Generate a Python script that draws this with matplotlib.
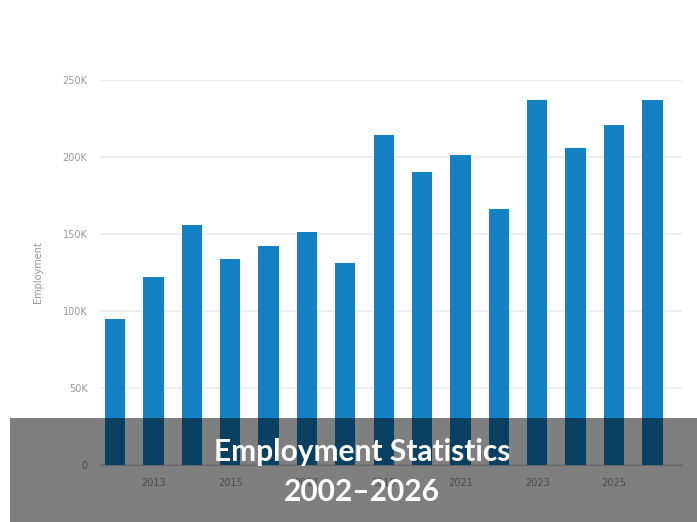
import matplotlib
matplotlib.use("Agg")
import matplotlib.pyplot as plt
from matplotlib.patches import Rectangle
from matplotlib.ticker import FuncFormatter

years = ["2012", "2013", "2014", "2015", "2016", "2017", "2018", "2019",
         "2020", "2021", "2022", "2023", "2024", "2025", "2026"]
employment = [95000, 122000, 156000, 134000, 142000, 151000, 131000, 214000,
              190000, 201000, 166000, 237000, 206000, 221000, 237000]
y_ticks = [0, 50000, 100000, 150000, 200000, 250000]
title_lines = ["Employment Statistics", "2002\u20132026"]

W, H = 697, 522
fig = plt.figure(figsize=(W / 100, H / 100), dpi=100)
ax = fig.add_axes([100 / W, (H - 465) / H, 582 / W, 385 / H])

x = list(range(len(years)))
ax.bar(x, employment, width=0.53, color="#1381c4", zorder=2)
ax.set_xlim(-0.39, 14.77)
ax.set_ylim(0, 250000)
ax.set_yticks(y_ticks)
ax.yaxis.set_major_formatter(FuncFormatter(lambda v, p: "0" if v == 0 else f"{int(v/1000)}K"))
ax.set_xticks(x[1::2])
ax.set_xticklabels(years[1::2])
ax.grid(axis="y", color="#ececec", linewidth=1.2, zorder=0)
for s in ["top", "right", "left"]:
    ax.spines[s].set_visible(False)
ax.spines["bottom"].set_color("#cccccc")
ax.tick_params(axis="both", length=0, labelsize=7, colors="#999999", pad=9)
ax.set_ylabel("Employment", fontsize=7, color="#999999", labelpad=14)

# overlay banner
fig.patches.append(Rectangle((10 / W, 0), (W - 10) / W, (522 - 418) / H,
                             transform=fig.transFigure, facecolor="black",
                             alpha=0.5, edgecolor="none", zorder=10))
fig.text(362 / W, 1 - 452 / H, title_lines[0], ha="center", va="center",
         color="white", fontsize=21.5, fontweight="bold", family="Lato", zorder=11)
fig.text(362 / W, 1 - 492 / H, title_lines[1], ha="center", va="center",
         color="white", fontsize=21.5, fontweight="bold", family="Lato", zorder=11)

fig.savefig("out.png", dpi=100)
